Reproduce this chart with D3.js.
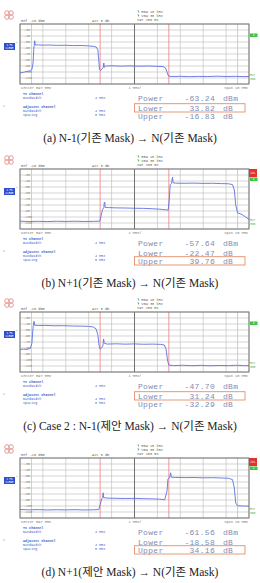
<!DOCTYPE html>
<html>
<head>
<meta charset="utf-8">
<script src="https://cdn.jsdelivr.net/npm/d3@7"></script>
<style>
  body { margin: 0; background: #fff; }
</style>
</head>
<body>
<div id="chart"></div>
<script>
// spectrum traces, [MHz, dBm]
const traceA = [
  [592.0,-101.5],[592.15,-100.5],[592.3,-99],[592.45,-98],[592.52,-96],[592.57,-85],[592.6,-62],[592.62,-56],[592.64,-48],[592.67,-55],
  [592.8,-54.8],[593.0,-55.3],[593.3,-55],[593.6,-55.6],[594.0,-55.4],[594.3,-56],[594.7,-55.8],[595.0,-56.5],[595.2,-57.2],[595.33,-58.5],
  [595.4,-63],[595.44,-80],[595.47,-95],[595.52,-97.5],[595.58,-95],[595.64,-92],[595.66,-85],[595.68,-92],[595.75,-90],[596.0,-89.6],
  [596.4,-90.2],[596.8,-89.8],[597.2,-90.3],[597.6,-90],[598.0,-90.6],[598.25,-91],[598.35,-93],[598.42,-100],[598.48,-106.5],[598.6,-107.5],
  [599.0,-107.2],[599.4,-107.8],[599.8,-107.3],[600.2,-107.6],[600.6,-107],[601.0,-107.5],[601.4,-107.2],[601.8,-107.7],[602.0,-107.4]
];
const traceB = [
  [592.0,-107],[592.4,-107.5],[592.8,-107.2],[593.2,-107.6],[593.6,-107.1],[594.0,-107.4],[594.4,-107],[594.8,-107.5],[595.2,-107.2],[595.48,-107],
  [595.53,-100],[595.6,-88],[595.66,-84.5],[595.68,-76],[595.7,-75],[595.72,-84],[595.85,-84.3],[596.2,-84.8],[596.6,-85],[597.0,-85.4],
  [597.4,-85.6],[597.8,-86.3],[598.1,-87],[598.35,-88],[598.47,-88.5],[598.52,-70],[598.56,-46],[598.62,-44],[598.66,-33.5],[598.69,-43],
  [598.8,-43.6],[599.2,-43.8],[599.6,-43.5],[600.0,-44],[600.4,-43.8],[600.8,-44.3],[601.1,-44.6],[601.28,-46],[601.36,-55],[601.42,-80],
  [601.5,-93],[601.7,-96],[601.85,-100],[602.0,-104]
];
const traceC = [
  [592.0,-82.5],[592.15,-81.8],[592.3,-82.4],[592.45,-80.5],[592.52,-72],[592.56,-50],[592.58,-43],[592.61,-35.5],[592.64,-42],[592.8,-42.6],
  [593.1,-42.3],[593.5,-43],[593.9,-42.8],[594.3,-43.4],[594.7,-43.6],[595.0,-44],[595.2,-45],[595.32,-48],[595.4,-58],[595.45,-75],
  [595.5,-82],[595.56,-80],[595.62,-76],[595.65,-65],[595.68,-72],[595.8,-73.5],[596.2,-73],[596.6,-73.6],[597.0,-73.2],[597.4,-73.8],
  [597.8,-73.5],[598.15,-74],[598.3,-75],[598.38,-82],[598.44,-100],[598.5,-108.5],[598.7,-109.3],[599.1,-108.8],[599.5,-109.5],[599.9,-108.9],
  [600.3,-109.6],[600.7,-109.1],[601.1,-109.4],[601.5,-108.8],[601.8,-109.5],[602.0,-109.2]
];
const traceD = [
  [592.0,-105.8],[592.4,-106.4],[592.8,-106],[593.2,-106.6],[593.6,-106.2],[594.0,-106.5],[594.4,-106.1],[594.8,-106.6],[595.2,-106.3],[595.44,-106],
  [595.5,-98],[595.57,-88],[595.61,-86.5],[595.63,-78],[595.65,-86],[595.8,-86.8],[596.2,-87.2],[596.6,-87.5],[597.0,-87.3],[597.4,-87.8],
  [597.8,-88.2],[598.1,-88.6],[598.32,-89.5],[598.42,-75],[598.46,-55],[598.53,-53],[598.58,-44.7],[598.61,-52],[598.8,-52.4],[599.2,-52.7],
  [599.6,-52.5],[600.0,-53],[600.4,-52.8],[600.8,-53.3],[601.1,-53.8],[601.28,-56],[601.36,-70],[601.42,-95],[601.5,-99.5],[601.8,-100.2],
  [602.0,-100]
];
const traces = [traceA, traceB, traceC, traceD];

const powerVals = ["-63.24", "-57.64", "-47.70", "-61.56"];
const lowerVals = ["33.82", "-22.47", "31.24", "-18.58"];
const upperVals = ["-16.83", "39.76", "-32.29", "34.16"];
const boxedRow = ["Lower", "Upper", "Lower", "Upper"];
const hasRedFlag = [false, true, false, true];
const captions = [
  "(a)  N-1(기존 Mask) → N(기존 Mask)",
  "(b) N+1(기존 Mask) → N(기존 Mask)",
  "(c) Case 2 : N-1(제안 Mask) → N(기존 Mask)",
  "(d)  N+1(제안 Mask) → N(기존 Mask)"
];
const freqDomain = [592, 602];
const levelDomain = [-20, -120];
const levelTicks = [-30, -40, -50, -60, -70, -80, -90, -100, -110];
const redMarkers = [595.5, 598.5];
const greenMarkers = [592.5, 601.5];

const svgWidth = 260;
const svgHeight = 583;
const frameTops = [24, 169, 312, 458];
const frameLeft = 20, frameRight = 249, frameH = 60;

const svg = d3.select('#chart')
  .append('svg')
  .attr('width', svgWidth)
  .attr('height', svgHeight)
  .style('font-family', 'DejaVu Sans');

const tiny = 'Liberation Mono';
const blueTxt = '#4a5cc0';

traces.forEach((trace, i) => {
  const T = frameTops[i];
  const g = svg.append('g');

  const x = d3.scaleLinear().domain(freqDomain).range([frameLeft, frameRight]);
  const y = d3.scaleLinear().domain(levelDomain).range([T, T + frameH]);

  // analyzer logo
  const logo = g.append('g').attr('transform', `translate(9,${T - 9})`);
  [[-2, -2], [2, -2], [-2, 2], [2, 2]].forEach(p => {
    logo.append('circle').attr('cx', p[0]).attr('cy', p[1]).attr('r', 2.3)
      .attr('fill', 'none').attr('stroke', '#e89a9a').attr('stroke-width', 1);
  });

  // header text
  const hdr = g.append('g').style('font-family', tiny).style('font-size', '3.6px').attr('fill', '#666');
  hdr.append('text').attr('x', frameLeft + 1).attr('y', T - 2).text('Ref  -10 dBm');
  hdr.append('text').attr('x', 92).attr('y', T - 2).text('Att   5 dB');
  ['* RBW 10 kHz', '* VBW 30 kHz', '  SWT 150 ms'].forEach((s, k) => {
    hdr.append('text').attr('x', 137).attr('y', T - 11 + k * 4).text(s);
  });
  [0, 1].forEach(k => {
    g.append('circle').attr('cx', 138.5).attr('cy', T - 12.2 + k * 4).attr('r', 0.7).attr('fill', '#44bb44');
  });

  // grid
  g.append('g').selectAll('line.v')
    .data(d3.range(freqDomain[0], freqDomain[1] + 0.01, 1))
    .enter().append('line')
    .attr('x1', d => x(d)).attr('x2', d => x(d))
    .attr('y1', T).attr('y2', T + frameH)
    .attr('stroke', '#b8b8b8').attr('stroke-width', 0.6);
  g.append('g').selectAll('line.h')
    .data(d3.range(levelDomain[0], levelDomain[1] - 0.01, -10))
    .enter().append('line')
    .attr('x1', frameLeft).attr('x2', frameRight)
    .attr('y1', d => y(d)).attr('y2', d => y(d))
    .attr('stroke', '#b8b8b8').attr('stroke-width', 0.6);

  // channel markers
  g.selectAll('line.red').data(redMarkers).enter().append('line')
    .attr('x1', d => x(d)).attr('x2', d => x(d))
    .attr('y1', T).attr('y2', T + frameH)
    .attr('stroke', '#e88080').attr('stroke-width', 0.8);
  g.selectAll('line.green').data(greenMarkers).enter().append('line')
    .attr('x1', d => x(d)).attr('x2', d => x(d))
    .attr('y1', T).attr('y2', T + frameH)
    .attr('stroke', '#9ddc9d').attr('stroke-width', 0.8);

  // center line + frame
  g.append('line')
    .attr('x1', x(597)).attr('x2', x(597)).attr('y1', T).attr('y2', T + frameH)
    .attr('stroke', '#666').attr('stroke-width', 0.9);
  g.append('rect')
    .attr('x', frameLeft).attr('y', T).attr('width', frameRight - frameLeft).attr('height', frameH)
    .attr('fill', 'none').attr('stroke', '#777').attr('stroke-width', 1);

  // level labels
  g.append('g').selectAll('text')
    .data(levelTicks).enter().append('text')
    .attr('x', frameLeft + 4).attr('y', d => y(d) + 1.3)
    .style('font-family', tiny).style('font-size', '3.4px').attr('fill', '#888')
    .text(d => d);

  // left blue badge
  g.append('rect').attr('x', 4).attr('y', T + 19).attr('width', 11).attr('height', 7).attr('fill', '#2f4fd0');
  g.append('text').attr('x', 9.5).attr('y', T + 22).attr('text-anchor', 'middle')
    .style('font-family', tiny).style('font-size', '2.6px').attr('fill', '#fff').text('1 PK');
  g.append('text').attr('x', 9.5).attr('y', T + 25).attr('text-anchor', 'middle')
    .style('font-family', tiny).style('font-size', '2.6px').attr('fill', '#fff').text('CLRWR');
  g.append('text').attr('x', 16).attr('y', T + 19.5)
    .style('font-size', '3px').attr('fill', '#44bb44').text('*');

  // right flags
  if (hasRedFlag[i]) {
    g.append('rect').attr('x', 249).attr('y', T).attr('width', 8).attr('height', 8).attr('fill', '#e03030');
    g.append('text').attr('x', 253).attr('y', T + 5).attr('text-anchor', 'middle')
      .style('font-size', '3px').attr('fill', '#fff').text('LVL');
  }
  g.append('rect').attr('x', 250).attr('y', hasRedFlag[i] ? T + 8.5 : T + 9.5)
    .attr('width', 7.5).attr('height', 3.5).attr('fill', '#3ec33e');
  g.append('text').attr('x', 253.7).attr('y', (hasRedFlag[i] ? T + 11.4 : T + 12.4))
    .attr('text-anchor', 'middle').style('font-size', '2.6px').attr('fill', '#fff').text('A');
  g.append('text').attr('x', 250).attr('y', T + 52).style('font-family', tiny)
    .style('font-size', '3px').attr('fill', '#4cae4c').text('EXT');
  g.append('text').attr('x', 250).attr('y', T + 56).style('font-family', tiny)
    .style('font-size', '3px').attr('fill', '#4cae4c').text('3DB');

  // trace
  const line = d3.line().x(d => x(d[0])).y(d => y(d[1]));
  g.append('path').datum(trace)
    .attr('d', line)
    .attr('fill', 'none')
    .attr('stroke', '#6070e0')
    .attr('stroke-width', 0.9)
    .attr('stroke-linejoin', 'round');

  // bottom labels
  const bot = g.append('g').style('font-family', tiny).style('font-size', '3.6px').attr('fill', '#777');
  bot.append('text').attr('x', frameLeft + 1).attr('y', T + 65).text('Center  597 MHz');
  bot.append('text').attr('x', x(597) - 6).attr('y', T + 65).text('1 MHz/');
  bot.append('text').attr('x', frameRight - 1).attr('y', T + 65).attr('text-anchor', 'end').text('Span  10 MHz');

  // channel table
  const tb = g.append('g').style('font-family', tiny).style('font-size', '3.4px').attr('fill', blueTxt);
  tb.append('text').attr('x', 23).attr('y', T + 70.5).style('font-weight', 'bold').text('Tx Channel');
  tb.append('text').attr('x', 23).attr('y', T + 74.5).text('Bandwidth');
  tb.append('text').attr('x', 95).attr('y', T + 74.5).text('4 MHz');
  tb.append('text').attr('x', 23).attr('y', T + 84).style('font-weight', 'bold').text('Adjacent Channel');
  tb.append('text').attr('x', 23).attr('y', T + 88).text('Bandwidth');
  tb.append('text').attr('x', 95).attr('y', T + 88).text('4 MHz');
  tb.append('text').attr('x', 23).attr('y', T + 92).text('Spacing');
  tb.append('text').attr('x', 95).attr('y', T + 92).text('5 MHz');
  g.append('text').attr('x', 3).attr('y', T + 84).style('font-size', '4px').attr('fill', '#4cae4c').text('*');

  // readouts
  const rows = [
    ['Power', powerVals[i], 'dBm', T + 77],
    ['Lower', lowerVals[i], 'dB', T + 86.5],
    ['Upper', upperVals[i], 'dB', T + 94.5]
  ];
  const ro = g.append('g').style('font-family', 'Liberation Mono').style('font-size', '8px')
    .attr('fill', '#7f8db4').style('letter-spacing', '0.3px');
  rows.forEach(r => {
    ro.append('text').attr('x', 138).attr('y', r[3]).text(r[0]);
    ro.append('text').attr('x', 215).attr('y', r[3]).attr('text-anchor', 'end').text(r[1]);
    ro.append('text').attr('x', 223).attr('y', r[3]).text(r[2]);
    if (r[0] === boxedRow[i]) {
      g.append('rect').attr('x', 134.5).attr('y', r[3] - 6.8).attr('width', 110.5).attr('height', 8.3)
        .attr('fill', 'none').attr('stroke', '#e58f6a').attr('stroke-width', 0.9);
    }
  });

  // caption
  g.append('text')
    .attr('x', 130).attr('y', T + 118)
    .attr('text-anchor', 'middle')
    .style('font-family', '"Liberation Serif", "Noto Sans CJK KR", serif')
    .style('font-size', '11.5px')
    .attr('fill', '#222')
    .text(captions[i]);
});
</script>
</body>
</html>
